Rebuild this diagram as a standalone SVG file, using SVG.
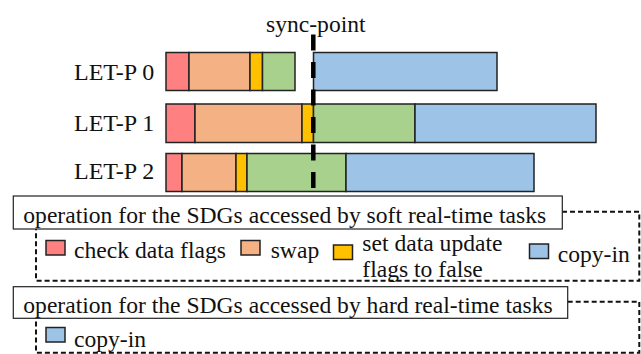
<svg xmlns="http://www.w3.org/2000/svg" width="641" height="354" viewBox="0 0 641 354">
  <style>
    .seg { stroke: #222; stroke-width: 1.5; }
    .chk { fill: #FF8080; }
    .swp { fill: #F4B183; }
    .flg { fill: #FFC000; }
    .grn { fill: #A9D18E; }
    .cpy { fill: #9DC3E6; }
    .frame { fill: #fff; stroke: #222; stroke-width: 1.2; }
    .dash { fill: none; stroke: #111; stroke-width: 2; stroke-dasharray: 5 3; }
    .key { stroke: #222; stroke-width: 1.5; }
  </style>
  <rect width="641" height="354" fill="#fff"/>

  <!-- LET-P 0 -->
  <g id="letp0">
    <text x="74" y="79.5" font-family="Liberation Serif" font-size="24" fill="#111">LET-P 0</text>
    <rect class="seg chk" x="166" y="52.5" width="23" height="38"/>
    <rect class="seg swp" x="189" y="52.5" width="61" height="38"/>
    <rect class="seg flg" x="250" y="52.5" width="12.5" height="38"/>
    <rect class="seg grn" x="262.5" y="52.5" width="32.5" height="38"/>
    <rect class="seg cpy" x="313.5" y="52.5" width="183.5" height="38"/>
  </g>

  <!-- LET-P 1 -->
  <g id="letp1">
    <text x="74" y="130.7" font-family="Liberation Serif" font-size="24" fill="#111">LET-P 1</text>
    <rect class="seg chk" x="166" y="104" width="29" height="38.5"/>
    <rect class="seg swp" x="195" y="104" width="107" height="38.5"/>
    <rect class="seg flg" x="302" y="104" width="11.5" height="38.5"/>
    <rect class="seg grn" x="313.5" y="104" width="101.5" height="38.5"/>
    <rect class="seg cpy" x="415" y="104" width="181" height="38.5"/>
  </g>

  <!-- LET-P 2 -->
  <g id="letp2">
    <text x="74" y="179.3" font-family="Liberation Serif" font-size="24" fill="#111">LET-P 2</text>
    <rect class="seg chk" x="166" y="153.5" width="16" height="38"/>
    <rect class="seg swp" x="182" y="153.5" width="54" height="38"/>
    <rect class="seg flg" x="236" y="153.5" width="11" height="38"/>
    <rect class="seg grn" x="247" y="153.5" width="99" height="38"/>
    <rect class="seg cpy" x="346" y="153.5" width="188" height="38"/>
  </g>

  <!-- sync point marker -->
  <g id="sync">
    <text x="266" y="31.5" font-family="Liberation Serif" font-size="23.6" fill="#111">sync-point</text>
    <line x1="313.3" y1="34.5" x2="313.3" y2="188.5" stroke="#000" stroke-width="4.5" stroke-dasharray="16 11.5"/>
  </g>

  <!-- legend: soft real-time tasks -->
  <g id="legend-soft">
    <polyline class="dash" points="562,211.7 639.3,211.7 639.3,280.7 36,280.7 36,229"/>
    <rect class="frame" x="13.3" y="196" width="549" height="33"/>
    <text x="23.3" y="223.3" font-family="Liberation Serif" font-size="23.6" fill="#111">operation for the SDGs accessed by soft real-time tasks</text>
    <rect class="key chk" x="46" y="240.5" width="19" height="14.5"/>
    <text x="74" y="258.3" font-family="Liberation Serif" font-size="23.6" fill="#111">check data flags</text>
    <rect class="key swp" x="241" y="240.5" width="19" height="14.5"/>
    <text x="270.7" y="258.3" font-family="Liberation Serif" font-size="23.6" fill="#111">swap</text>
    <rect class="key flg" x="333.5" y="245" width="19" height="14.5"/>
    <text x="362.3" y="250.7" font-family="Liberation Serif" font-size="23.6" fill="#111">set data update</text>
    <text x="362.3" y="277.3" font-family="Liberation Serif" font-size="23.6" fill="#111">flags to false</text>
    <rect class="key cpy" x="529.5" y="244" width="19" height="14.5"/>
    <text x="557.7" y="261.7" font-family="Liberation Serif" font-size="23.6" fill="#111">copy-in</text>
  </g>

  <!-- legend: hard real-time tasks -->
  <g id="legend-hard">
    <polyline class="dash" points="567.7,301.7 639.3,301.7 639.3,352.7 36,352.7 36,318.3"/>
    <rect class="frame" x="13.3" y="286.7" width="554.4" height="31.6"/>
    <text x="23.3" y="312.7" font-family="Liberation Serif" font-size="23.6" fill="#111">operation for the SDGs accessed by hard real-time tasks</text>
    <rect class="key cpy" x="46" y="327.5" width="19" height="14.5"/>
    <text x="74" y="346.7" font-family="Liberation Serif" font-size="23.6" fill="#111">copy-in</text>
  </g>
</svg>
